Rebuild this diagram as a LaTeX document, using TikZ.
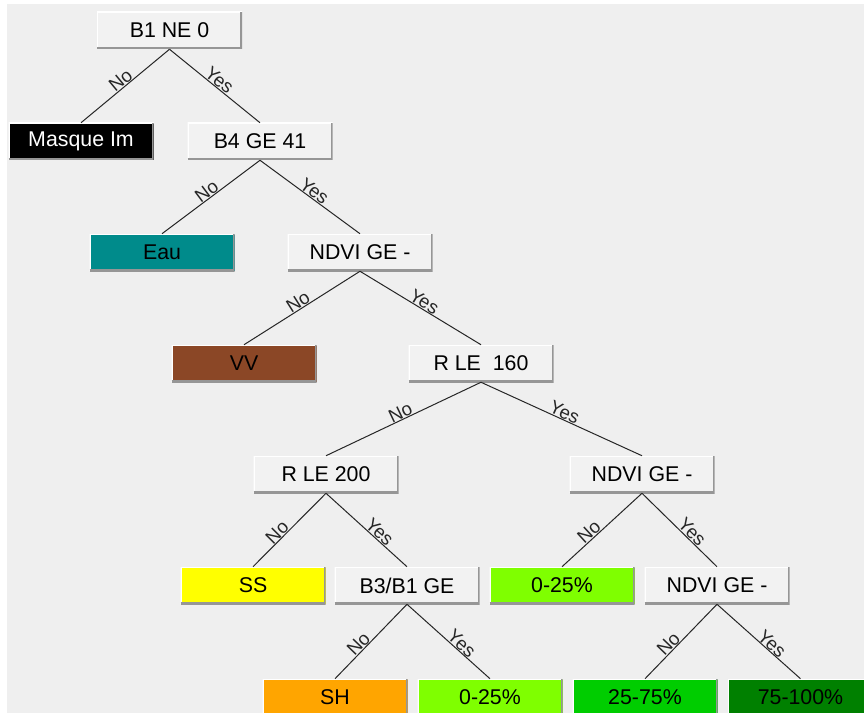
\documentclass[tikz,border=0pt]{standalone}
\usepackage{fontspec}
\setmainfont{Liberation Sans}
\usepackage{tikz}
\usetikzlibrary{calc}

\definecolor{bgcol}{RGB}{239,239,239}
\definecolor{boxcol}{RGB}{242,242,242}
\definecolor{edgecol}{RGB}{150,150,150}
\definecolor{eaucol}{RGB}{0,139,139}
\definecolor{vvcol}{RGB}{139,71,38}
\definecolor{sscol}{RGB}{255,255,0}
\definecolor{shcol}{RGB}{255,165,0}
\definecolor{lowcol}{RGB}{127,255,0}
\definecolor{midcol}{RGB}{0,205,0}
\definecolor{highcol}{RGB}{0,128,0}

\begin{document}
\begin{tikzpicture}[x=0.75pt, y=-0.75pt,
        box/.style={fill=boxcol, minimum width=108.75pt, minimum height=27.75pt,
          inner sep=0pt, font=\fontsize{16}{18}\selectfont,
          path picture={
            \draw[white, line width=1.5pt] (path picture bounding box.south west)
              |- (path picture bounding box.north east);
            \draw[edgecol, line width=2.5pt] (path picture bounding box.south west)
              -| (path picture bounding box.north east);
          }},
        branch/.style={line width=0.75pt, black!85},
        answer/.style={sloped, above, inner sep=0.3pt, font=\fontsize{14}{16}\selectfont}]
        \clip (0,0) rectangle (864,713);
        \fill[white] (0,0) rectangle (864,713);
        \fill[bgcol] (7,4) rectangle (864,713);
        % tests
        \node[box] (b1) at (169.5,30.5) {B1 NE 0};
        \node[box] (b4) at (260,141.5) {B4 GE 41};
        \node[box] (ndvi1) at (360,252.5) {NDVI GE -};
        \node[box] (rle160) at (481,363.5) {R LE\ \ 160};
        \node[box] (rle200) at (326,474.5) {R LE 200};
        \node[box] (ndvi2) at (642,474.5) {NDVI GE -};
        \node[box] (b3b1) at (407,585.5) {B3/B1 GE};
        \node[box] (ndvi3) at (717,585.5) {NDVI GE -};
        % classes
        \node[box, fill=black, text=white] (masque) at (81,141.5) {Masque Im};
        \node[box, fill=eaucol] (eau) at (162,252.5) {Eau};
        \node[box, fill=vvcol] (vv) at (244,363.5) {VV};
        \node[box, fill=sscol] (ss) at (253,585.5) {SS};
        \node[box, fill=lowcol] (low1) at (562,585.5) {0-25\%};
        \node[box, fill=shcol] (sh) at (335,697.5) {SH};
        \node[box, fill=lowcol] (low2) at (490,697.5) {0-25\%};
        \node[box, fill=midcol] (mid) at (645,697.5) {25-75\%};
        \node[box, fill=highcol] (high) at (800.5,697.5) {75-100\%};
        \foreach \a/\b/\p in {b1/masque/0.5, b4/eau/0.5, ndvi1/vv/0.5, rle160/rle200/0.5,
            rle200/ss/0.6, ndvi2/low1/0.6, b3b1/sh/0.6, ndvi3/mid/0.6} {
          \draw[branch] (\a.south) -- node[answer, pos=\p] {No} (\b.north);
        };
        \foreach \a/\b/\p in {b1/b4/0.5, b4/ndvi1/0.5, ndvi1/rle160/0.5, rle160/ndvi2/0.5,
            rle200/b3b1/0.6, ndvi2/ndvi3/0.6, b3b1/low2/0.6, ndvi3/high/0.6} {
          \draw[branch] (\a.south) -- node[answer, pos=\p] {Yes} (\b.north);
        };
      \end{tikzpicture}
\end{document}
